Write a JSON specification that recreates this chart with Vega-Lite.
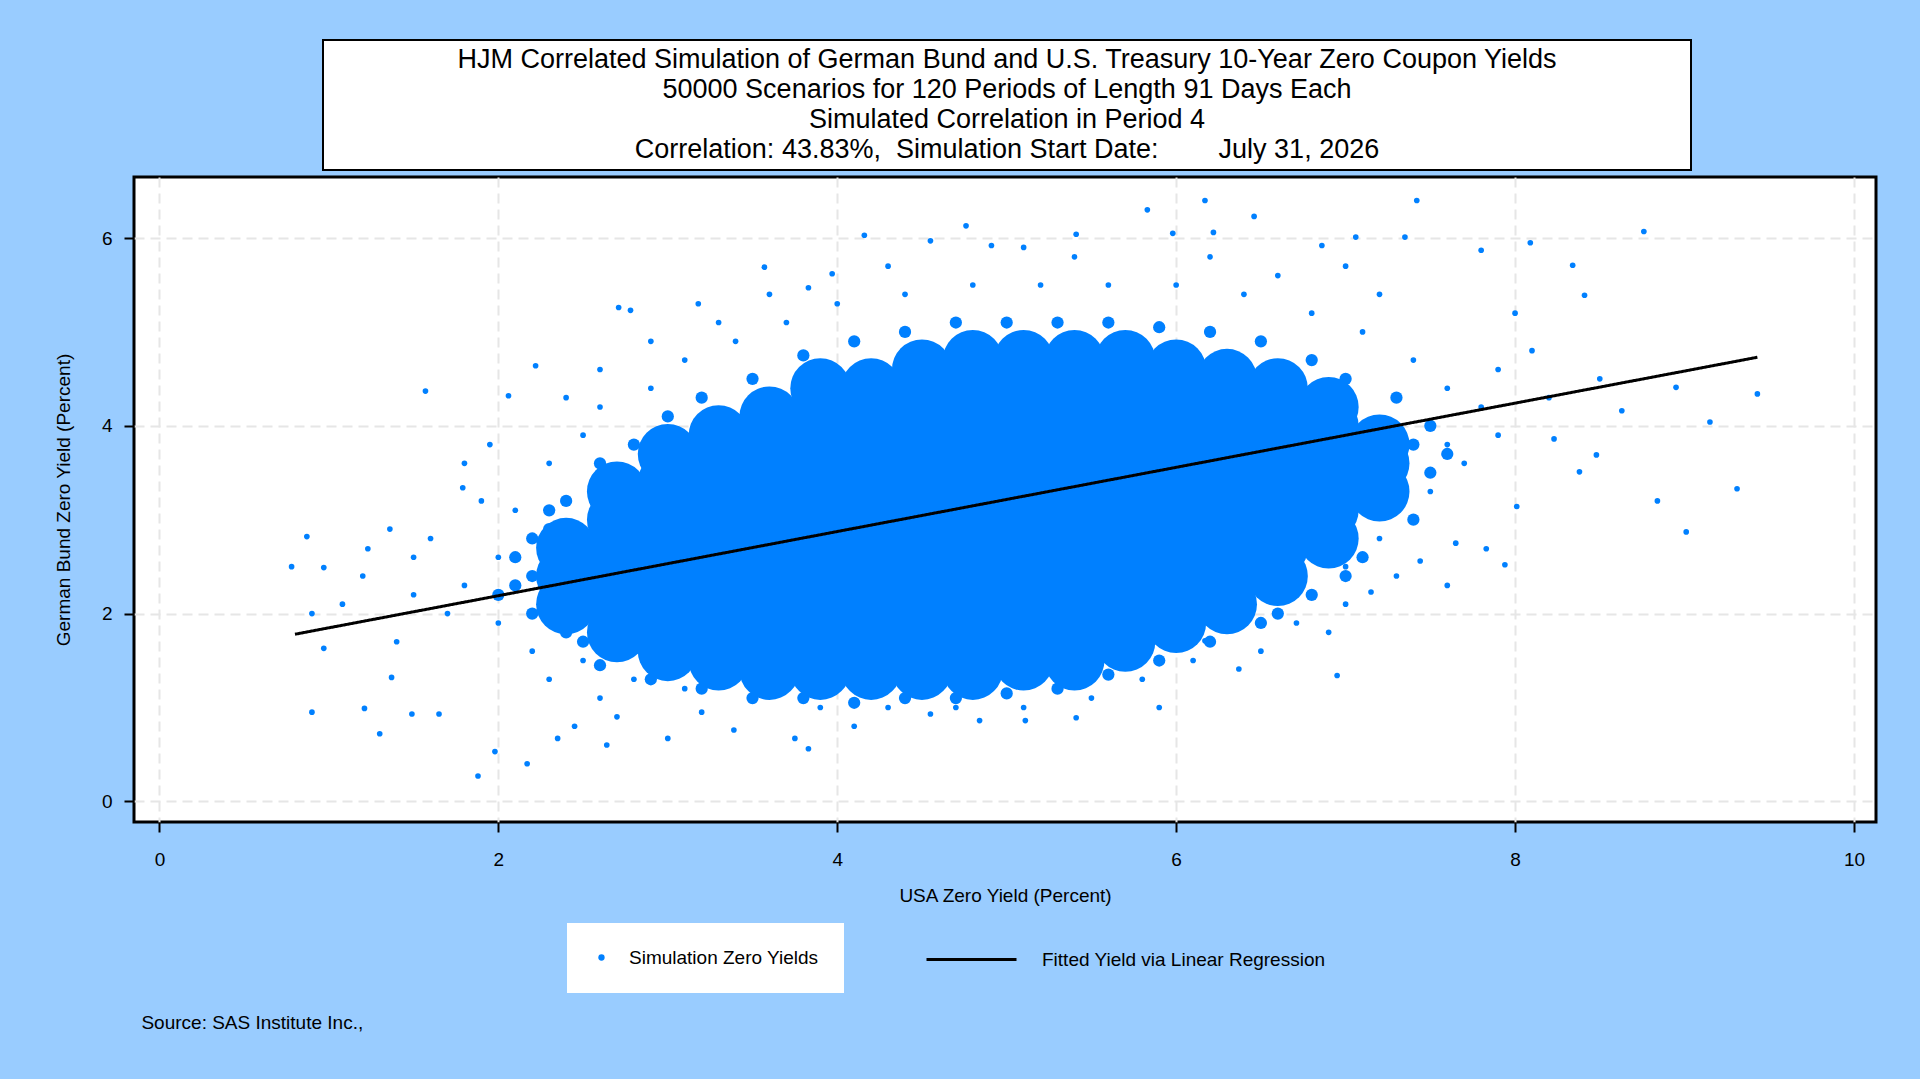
{
  "$schema": "https://vega.github.io/schema/vega-lite/v6.json",
  "background": "#99CCFF",
  "autosize": {"type": "pad"},
  "padding": {"left": 52, "top": 39, "right": 42, "bottom": 44},
  "spacing": 4,
  "config": {
    "font": "Liberation Sans",
    "view": {"stroke": null}
  },
  "datasets": {
    "core": [
      {"u":2.4,"g":2.1},{"u":2.4,"g":2.4},{"u":2.4,"g":2.7},
      {"u":2.7,"g":1.8},{"u":2.7,"g":2.1},{"u":2.7,"g":2.4},{"u":2.7,"g":2.7},{"u":2.7,"g":3.0},{"u":2.7,"g":3.3},
      {"u":3.0,"g":1.6},{"u":3.0,"g":1.9},{"u":3.0,"g":2.2},{"u":3.0,"g":2.5},{"u":3.0,"g":2.8},{"u":3.0,"g":3.1},{"u":3.0,"g":3.4},{"u":3.0,"g":3.7},
      {"u":3.3,"g":1.5},{"u":3.3,"g":1.8},{"u":3.3,"g":2.1},{"u":3.3,"g":2.4},{"u":3.3,"g":2.7},{"u":3.3,"g":3.0},{"u":3.3,"g":3.3},{"u":3.3,"g":3.6},{"u":3.3,"g":3.9},
      {"u":3.6,"g":1.4},{"u":3.6,"g":1.7},{"u":3.6,"g":2.0},{"u":3.6,"g":2.3},{"u":3.6,"g":2.6},{"u":3.6,"g":2.9},{"u":3.6,"g":3.2},{"u":3.6,"g":3.5},{"u":3.6,"g":3.8},{"u":3.6,"g":4.1},
      {"u":3.9,"g":1.4},{"u":3.9,"g":1.7},{"u":3.9,"g":2.0},{"u":3.9,"g":2.3},{"u":3.9,"g":2.6},{"u":3.9,"g":2.9},{"u":3.9,"g":3.2},{"u":3.9,"g":3.5},{"u":3.9,"g":3.8},{"u":3.9,"g":4.1},{"u":3.9,"g":4.4},
      {"u":4.2,"g":1.4},{"u":4.2,"g":1.7},{"u":4.2,"g":2.0},{"u":4.2,"g":2.3},{"u":4.2,"g":2.6},{"u":4.2,"g":2.9},{"u":4.2,"g":3.2},{"u":4.2,"g":3.5},{"u":4.2,"g":3.8},{"u":4.2,"g":4.1},{"u":4.2,"g":4.4},
      {"u":4.5,"g":1.4},{"u":4.5,"g":1.7},{"u":4.5,"g":2.0},{"u":4.5,"g":2.3},{"u":4.5,"g":2.6},{"u":4.5,"g":2.9},{"u":4.5,"g":3.2},{"u":4.5,"g":3.5},{"u":4.5,"g":3.8},{"u":4.5,"g":4.1},{"u":4.5,"g":4.4},{"u":4.5,"g":4.6},
      {"u":4.8,"g":1.4},{"u":4.8,"g":1.7},{"u":4.8,"g":2.0},{"u":4.8,"g":2.3},{"u":4.8,"g":2.6},{"u":4.8,"g":2.9},{"u":4.8,"g":3.2},{"u":4.8,"g":3.5},{"u":4.8,"g":3.8},{"u":4.8,"g":4.1},{"u":4.8,"g":4.4},{"u":4.8,"g":4.7},
      {"u":5.1,"g":1.5},{"u":5.1,"g":1.8},{"u":5.1,"g":2.1},{"u":5.1,"g":2.4},{"u":5.1,"g":2.7},{"u":5.1,"g":3.0},{"u":5.1,"g":3.3},{"u":5.1,"g":3.6},{"u":5.1,"g":3.9},{"u":5.1,"g":4.2},{"u":5.1,"g":4.5},{"u":5.1,"g":4.7},
      {"u":5.4,"g":1.5},{"u":5.4,"g":1.8},{"u":5.4,"g":2.1},{"u":5.4,"g":2.4},{"u":5.4,"g":2.7},{"u":5.4,"g":3.0},{"u":5.4,"g":3.3},{"u":5.4,"g":3.6},{"u":5.4,"g":3.9},{"u":5.4,"g":4.2},{"u":5.4,"g":4.5},{"u":5.4,"g":4.7},
      {"u":5.7,"g":1.7},{"u":5.7,"g":2.0},{"u":5.7,"g":2.3},{"u":5.7,"g":2.6},{"u":5.7,"g":2.9},{"u":5.7,"g":3.2},{"u":5.7,"g":3.5},{"u":5.7,"g":3.8},{"u":5.7,"g":4.1},{"u":5.7,"g":4.4},{"u":5.7,"g":4.7},
      {"u":6.0,"g":1.9},{"u":6.0,"g":2.2},{"u":6.0,"g":2.5},{"u":6.0,"g":2.8},{"u":6.0,"g":3.1},{"u":6.0,"g":3.4},{"u":6.0,"g":3.7},{"u":6.0,"g":4.0},{"u":6.0,"g":4.3},{"u":6.0,"g":4.6},
      {"u":6.3,"g":2.1},{"u":6.3,"g":2.4},{"u":6.3,"g":2.7},{"u":6.3,"g":3.0},{"u":6.3,"g":3.3},{"u":6.3,"g":3.6},{"u":6.3,"g":3.9},{"u":6.3,"g":4.2},{"u":6.3,"g":4.5},
      {"u":6.6,"g":2.4},{"u":6.6,"g":2.7},{"u":6.6,"g":3.0},{"u":6.6,"g":3.3},{"u":6.6,"g":3.6},{"u":6.6,"g":3.9},{"u":6.6,"g":4.2},{"u":6.6,"g":4.4},
      {"u":6.9,"g":2.8},{"u":6.9,"g":3.1},{"u":6.9,"g":3.4},{"u":6.9,"g":3.7},{"u":6.9,"g":4.0},{"u":6.9,"g":4.2},
      {"u":7.2,"g":3.3},{"u":7.2,"g":3.6},{"u":7.2,"g":3.8}
    ],
    "mid": [
      {"u":2.1,"g":2.3},{"u":2.1,"g":2.6},{"u":2.2,"g":2.0},{"u":2.3,"g":2.9},{"u":2.2,"g":2.8},{"u":2.4,"g":3.2},{"u":2.5,"g":1.7},{"u":2.4,"g":1.8},{"u":2.6,"g":3.6},{"u":2.8,"g":3.8},{"u":2.6,"g":1.45},{"u":2.9,"g":1.3},{"u":3.0,"g":4.1},{"u":3.2,"g":4.3},{"u":3.2,"g":1.2},{"u":3.5,"g":4.5},{"u":3.5,"g":1.1},{"u":3.8,"g":4.75},{"u":3.8,"g":1.1},{"u":4.1,"g":4.9},{"u":4.1,"g":1.05},{"u":4.4,"g":5.0},{"u":4.4,"g":1.1},{"u":4.7,"g":5.1},{"u":4.7,"g":1.1},{"u":5.0,"g":5.1},{"u":5.0,"g":1.15},{"u":5.3,"g":5.1},{"u":5.3,"g":1.2},{"u":5.6,"g":5.1},{"u":5.6,"g":1.35},{"u":5.9,"g":5.05},{"u":5.9,"g":1.5},{"u":6.2,"g":5.0},{"u":6.2,"g":1.7},{"u":6.5,"g":4.9},{"u":6.5,"g":1.9},{"u":6.8,"g":4.7},{"u":6.8,"g":2.2},{"u":7.0,"g":4.5},{"u":7.1,"g":2.6},{"u":7.3,"g":4.3},{"u":7.4,"g":3.0},{"u":7.5,"g":3.5},{"u":7.5,"g":4.0},{"u":7.0,"g":2.4},{"u":6.6,"g":2.0},{"u":2.2,"g":2.4},{"u":2.0,"g":2.2},{"u":2.3,"g":3.1},{"u":7.4,"g":3.8},{"u":7.6,"g":3.7}
    ],
    "scatter": [
      {"u":0.78,"g":2.50},{"u":0.87,"g":2.82},{"u":0.90,"g":2.0},{"u":0.97,"g":2.49},{"u":0.97,"g":1.63},{"u":0.90,"g":0.95},{"u":1.08,"g":2.1},{"u":1.21,"g":0.99},{"u":1.30,"g":0.72},{"u":1.57,"g":4.37},{"u":1.88,"g":0.27},{"u":1.98,"g":0.53},{"u":2.17,"g":0.40},{"u":2.22,"g":4.64},{"u":1.36,"g":2.9},{"u":1.23,"g":2.69},{"u":1.37,"g":1.32},{"u":1.49,"g":0.93},{"u":1.65,"g":0.93},{"u":1.79,"g":3.34},{"u":1.95,"g":3.8},{"u":2.06,"g":4.32},{"u":2.35,"g":0.67},{"u":2.71,"g":5.26},{"u":2.78,"g":5.23},{"u":3.18,"g":5.3},{"u":3.57,"g":5.69},{"u":3.83,"g":5.47},{"u":3.97,"g":5.62},{"u":4.16,"g":6.03},{"u":4.55,"g":5.97},{"u":4.76,"g":6.13},{"u":4.91,"g":5.92},{"u":5.41,"g":6.04},{"u":5.83,"g":6.3},{"u":5.98,"g":6.05},{"u":6.17,"g":6.4},{"u":6.22,"g":6.06},{"u":6.46,"g":6.23},{"u":6.86,"g":5.92},{"u":7.06,"g":6.01},{"u":7.42,"g":6.4},{"u":7.35,"g":6.01},{"u":7.8,"g":5.87},{"u":8.09,"g":5.95},{"u":8.76,"g":6.07},{"u":8.34,"g":5.71},{"u":8.41,"g":5.39},{"u":8.95,"g":4.41},{"u":9.15,"g":4.04},{"u":9.43,"g":4.34},{"u":9.31,"g":3.33},{"u":9.01,"g":2.87},{"u":8.84,"g":3.2},{"u":8.63,"g":4.16},{"u":8.48,"g":3.69},{"u":8.38,"g":3.51},{"u":8.23,"g":3.86},{"u":8.01,"g":3.14},{"u":7.94,"g":2.52},{"u":7.83,"g":2.69},{"u":7.65,"g":2.75},{"u":7.44,"g":2.56},{"u":7.15,"g":2.23},{"u":7.0,"g":2.1},{"u":6.95,"g":1.34},{"u":6.71,"g":1.9},{"u":6.37,"g":1.41},{"u":6.17,"g":1.71},{"u":5.41,"g":0.89},{"u":5.11,"g":0.86},{"u":4.84,"g":0.86},{"u":4.55,"g":0.93},{"u":3.83,"g":0.56},{"u":3.75,"g":0.67},{"u":3.39,"g":0.76},{"u":3.0,"g":0.67},{"u":2.64,"g":0.6},{"u":2.45,"g":0.8},
      {"u":2.0,"g":2.6},{"u":2.1,"g":3.1},{"u":2.2,"g":1.6},{"u":2.0,"g":1.9},{"u":1.8,"g":2.3},{"u":1.6,"g":2.8},{"u":1.5,"g":2.2},{"u":2.3,"g":3.6},{"u":2.5,"g":3.9},{"u":2.6,"g":4.2},{"u":2.9,"g":4.4},{"u":3.1,"g":4.7},{"u":3.4,"g":4.9},{"u":3.7,"g":5.1},{"u":4.0,"g":5.3},{"u":4.4,"g":5.4},{"u":4.8,"g":5.5},{"u":5.2,"g":5.5},{"u":5.6,"g":5.5},{"u":6.0,"g":5.5},{"u":6.4,"g":5.4},{"u":6.8,"g":5.2},{"u":7.1,"g":5.0},{"u":7.4,"g":4.7},{"u":7.6,"g":4.4},{"u":7.8,"g":4.2},{"u":7.9,"g":3.9},{"u":7.7,"g":3.6},{"u":7.5,"g":3.3},{"u":7.4,"g":3.0},{"u":7.2,"g":2.8},{"u":7.0,"g":2.5},{"u":6.7,"g":2.2},{"u":6.4,"g":1.9},{"u":6.1,"g":1.5},{"u":5.8,"g":1.3},{"u":5.5,"g":1.1},{"u":5.1,"g":1.0},{"u":4.7,"g":1.0},{"u":4.3,"g":1.0},{"u":3.9,"g":1.0},{"u":3.5,"g":1.1},{"u":3.1,"g":1.2},{"u":2.8,"g":1.3},{"u":2.5,"g":1.5},{"u":2.3,"g":1.3},{"u":2.6,"g":1.1},{"u":3.2,"g":0.95},{"u":4.1,"g":0.8},{"u":6.5,"g":1.6},{"u":7.3,"g":2.4},{"u":7.6,"g":3.8},{"u":7.9,"g":4.6},{"u":8.1,"g":4.8},{"u":7.2,"g":5.4},{"u":6.6,"g":5.6},{"u":5.4,"g":5.8},{"u":4.3,"g":5.7},{"u":3.6,"g":5.4},{"u":2.9,"g":4.9},{"u":2.4,"g":4.3},{"u":1.9,"g":3.2},{"u":1.7,"g":2.0},{"u":1.4,"g":1.7},{"u":1.2,"g":2.4},{"u":1.5,"g":2.6},{"u":2.7,"g":0.9},{"u":5.9,"g":1.0},{"u":6.9,"g":1.8},{"u":7.6,"g":2.3},{"u":8.2,"g":4.3},{"u":8.5,"g":4.5},{"u":8.0,"g":5.2},{"u":7.0,"g":5.7},{"u":6.2,"g":5.8},{"u":5.1,"g":5.9},{"u":3.3,"g":5.1},{"u":2.6,"g":4.6},{"u":1.8,"g":3.6}
    ],
    "fit": [{"u":0.8,"g":1.78},{"u":9.43,"g":4.73}]
  },
  "vconcat": [
    {
      "spacing": 0,
      "hconcat": [
        {
          "width": 188,
          "height": 130,
          "data": {"values": [{}]},
          "mark": {"type": "text", "text": ""}
        },
        {
          "width": 1368,
          "height": 130,
          "view": {"fill": "white", "stroke": "black", "strokeWidth": 2},
          "data": {"values": [{}]},
          "mark": {
            "type": "text",
            "x": 684,
            "y": 20,
            "align": "center",
            "baseline": "middle",
            "fontSize": 27,
            "lineHeight": 30,
            "color": "black",
            "text": [
              "HJM Correlated Simulation of German Bund and U.S. Treasury 10-Year Zero Coupon Yields",
              "50000 Scenarios for 120 Periods of Length 91 Days Each",
              "Simulated Correlation in Period 4",
              "Correlation: 43.83%,\u00a0 Simulation Start Date:\u00a0\u00a0\u00a0\u00a0\u00a0\u00a0\u00a0 July 31, 2026"
            ]
          }
        }
      ]
    },
    {
      "width": 1742,
      "height": 645,
      "view": {"fill": "white", "stroke": "black", "strokeWidth": 3},
      "title": {
        "text": "Source: SAS Institute Inc.,",
        "orient": "bottom",
        "anchor": "start",
        "offset": 109,
        "dx": 87,
        "fontSize": 19,
        "fontWeight": "normal",
        "color": "black"
      },
      "encoding": {
        "x": {
          "field": "u", "type": "quantitative",
          "scale": {"domain": [-0.15, 10.13], "nice": false, "zero": false},
          "axis": {
            "title": "USA Zero Yield (Percent)", "values": [0, 2, 4, 6, 8, 10],
            "domain": false, "tickColor": "black", "tickSize": 10, "tickWidth": 2,
            "labelFontSize": 19, "labelColor": "black", "labelPadding": 18,
            "titleFontSize": 19, "titleFontWeight": "normal", "titleColor": "black", "titlePadding": 17,
            "grid": true, "gridColor": "#e6e6e6", "gridDash": [10, 6], "gridWidth": 2
          }
        },
        "y": {
          "field": "g", "type": "quantitative",
          "scale": {"domain": [-0.22, 6.65], "nice": false, "zero": false},
          "axis": {
            "title": "German Bund Zero Yield (Percent)", "values": [0, 2, 4, 6],
            "domain": false, "tickColor": "black", "tickSize": 10, "tickWidth": 2,
            "labelFontSize": 19, "labelColor": "black", "labelPadding": 12,
            "titleFontSize": 19, "titleFontWeight": "normal", "titleColor": "black", "titlePadding": 28,
            "grid": true, "gridColor": "#e6e6e6", "gridDash": [10, 6], "gridWidth": 2
          }
        }
      },
      "layer": [
        {
          "data": {"name": "core"},
          "mark": {"type": "circle", "size": 3600, "opacity": 1},
          "encoding": {
            "color": {
              "datum": "Simulation Zero Yields",
              "scale": {"domain": ["Simulation Zero Yields"], "range": ["#0080FF"]},
              "legend": {
                "title": null,
                "orient": "none",
                "legendX": 433,
                "legendY": 883,
                "fillColor": "white",
                "padding": 25,
                "labelFontSize": 19,
                "labelColor": "black",
                "labelOffset": 18,
                "labelLimit": 1200,
                "labelExpr": "datum.label + '\u00a0\u00a0\u00a0\u00a0\u00a0\u00a0\u00a0\u00a0\u00a0\u00a0\u00a0\u00a0\u00a0\u00a0\u00a0\u00a0\u00a0\u00a0\u00a0\u00a0\u00a0\u00a0\u00a0\u00a0\u00a0\u00a0\u00a0\u00a0\u00a0\u00a0\u00a0\u00a0\u00a0\u00a0\u00a0\u00a0\u00a0\u00a0\u00a0\u00a0\u00a0\u00a0\u00a0\u00a0\u00a0\u00a0\u00a0\u00a0\u00a0\u00a0\u00a0\u00a0\u00a0\u00a0\u00a0\u00a0\u00a0\u00a0\u00a0\u00a0\u00a0\u00a0\u00a0\u00a0\u00a0\u00a0\u00a0\u00a0\u00a0\u00a0\u00a0\u00a0\u00a0\u00a0\u00a0\u00a0\u00a0\u00a0\u00a0\u00a0\u00a0\u00a0\u00a0\u00a0\u00a0\u00a0\u00a0\u00a0\u00a0\u00a0\u00a0\u00a0\u00a0\u00a0\u00a0\u00a0\u00a0\u00a0\u00a0\u00a0\u00a0\u00a0\u00a0\u00a0\u00a0\u00a0\u00a0\u00a0\u00a0\u00a0'",
                "symbolType": "circle",
                "symbolSize": 40,
                "symbolOpacity": 1
              }
            }
          }
        },
        {
          "data": {"name": "mid"},
          "mark": {"type": "circle", "size": 150, "opacity": 1},
          "encoding": {"color": {"datum": "Simulation Zero Yields", "legend": null}}
        },
        {
          "data": {"name": "scatter"},
          "mark": {"type": "circle", "size": 32, "opacity": 1},
          "encoding": {"color": {"datum": "Simulation Zero Yields", "legend": null}}
        },
        {
          "data": {"name": "fit"},
          "mark": {"type": "line", "strokeWidth": 3, "color": "black"},
          "encoding": {
            "strokeDash": {
              "datum": "Fitted Yield via Linear Regression",
              "scale": {"domain": ["Fitted Yield via Linear Regression"], "range": [[1, 0]]},
              "legend": {
                "title": null,
                "orient": "none",
                "legendX": 709,
                "legendY": 848,
                "padding": 25,
                "labelFontSize": 19,
                "labelColor": "black",
                "labelOffset": 24,
                "labelLimit": 800,
                "symbolType": "stroke",
                "symbolSize": 8100,
                "symbolStrokeWidth": 3,
                "symbolStrokeColor": "black",
                "symbolOffset": 57
              }
            }
          }
        }
      ]
    }
  ]
}
